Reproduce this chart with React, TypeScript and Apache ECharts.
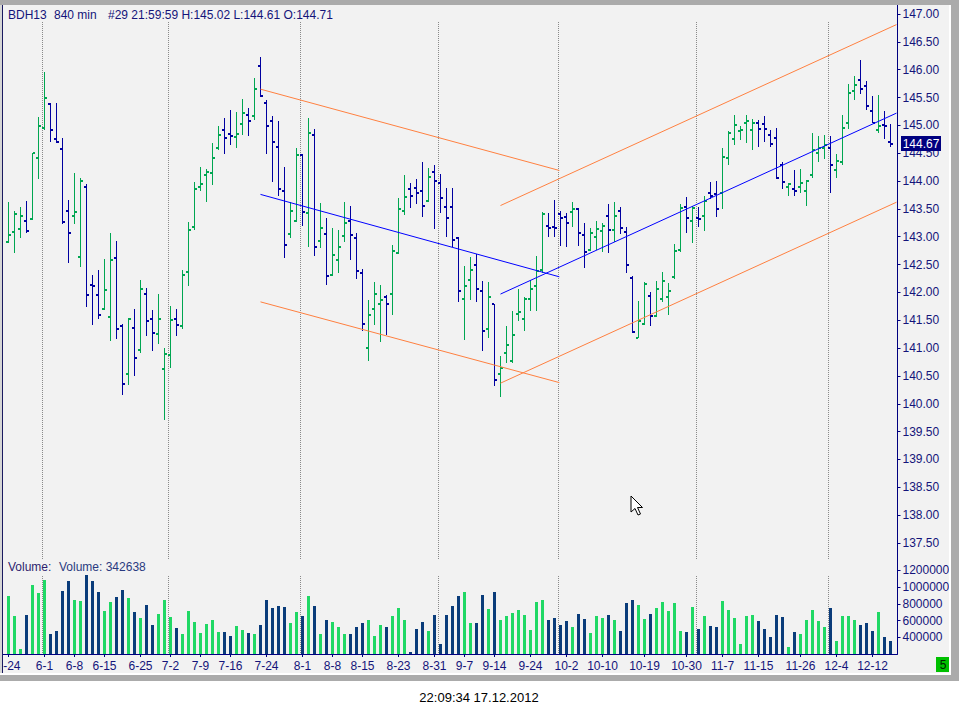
import React, { useEffect, useRef } from "react";
import * as echarts from "echarts";

// ---------- data ----------
const barOpen = [
  142.90, 143.08, 143.13, 143.28, 143.31, 144.41, 144.95, 145.38, 144.75, 144.57,
  143.46, 143.37, 142.63, 143.89, 142.13, 141.95, 141.71, 141.55, 142.61, 141.39,
  140.53, 141.36, 140.96, 141.97, 141.53, 141.25, 140.62, 140.87, 141.53, 141.39,
  142.36, 143.17, 143.90, 144.10, 144.14, 144.59, 144.91, 144.84, 144.79, 145.02,
  145.18, 145.17, 146.06, 145.41, 145.07, 144.62, 143.82, 143.04, 143.29, 144.46,
  143.42, 144.82, 142.92, 143.04, 142.32, 142.59, 143.01, 143.29, 142.97, 142.34,
  141.01, 141.70, 141.80, 141.91, 141.98, 142.70, 143.47, 143.85, 143.87, 143.83,
  143.64, 144.16, 143.96, 143.53, 143.53, 142.98, 141.88, 142.22, 142.50, 142.02,
  141.34, 141.79, 140.53, 140.92, 140.77, 141.61, 141.52, 141.88, 142.11, 142.40,
  143.20, 143.18, 143.41, 143.35, 143.44, 143.50, 143.03, 142.77, 142.99, 143.10,
  143.38, 143.12, 143.46, 143.08, 142.25, 141.19, 141.44, 141.93, 141.57, 141.89,
  141.91, 142.27, 142.76, 143.53, 143.28, 143.33, 143.38, 143.78, 143.76, 143.78,
  144.41, 144.75, 144.90, 145.04, 144.91, 145.04, 145.03, 144.83, 144.78, 144.29,
  143.89, 143.86, 143.90, 143.82, 144.11, 144.50, 144.59, 144.60, 144.20, 144.34,
  145.04, 145.61, 145.82, 145.71, 145.26, 144.92, 145.00, 144.71,
];
const barHigh = [
  143.62, 143.46, 143.53, 143.64, 144.51, 145.15, 145.96, 145.40, 145.40, 144.77,
  143.66, 144.14, 144.06, 143.95, 142.31, 142.40, 142.60, 143.07, 142.92, 141.43,
  141.54, 141.70, 142.22, 142.08, 141.68, 141.97, 141.00, 141.76, 141.70, 142.40,
  143.26, 143.98, 144.25, 144.22, 144.68, 144.99, 145.13, 145.28, 145.24, 145.47,
  145.31, 145.85, 146.23, 145.46, 145.17, 145.08, 144.25, 143.62, 144.59, 144.48,
  145.13, 144.94, 143.61, 143.34, 143.16, 143.12, 143.62, 143.56, 143.06, 142.42,
  141.86, 142.19, 142.13, 141.95, 142.85, 143.70, 144.11, 143.97, 144.04, 144.34,
  144.23, 144.29, 144.13, 143.88, 143.88, 142.99, 142.47, 142.64, 142.69, 142.21,
  142.19, 141.80, 140.86, 141.39, 141.67, 142.07, 141.92, 142.22, 142.66, 143.44,
  143.43, 143.66, 143.47, 143.42, 143.62, 143.52, 143.25, 143.15, 143.28, 143.25,
  143.59, 143.62, 143.53, 143.17, 142.29, 141.85, 142.18, 142.01, 142.21, 142.37,
  142.17, 142.87, 143.59, 143.71, 143.56, 143.54, 143.74, 143.98, 144.00, 144.59,
  144.89, 145.19, 144.99, 145.19, 145.11, 145.09, 145.17, 144.92, 144.95, 144.34,
  143.97, 144.20, 144.22, 144.02, 144.87, 144.80, 144.82, 144.80, 144.49, 145.19,
  145.74, 145.89, 146.17, 145.80, 145.53, 145.55, 145.26, 145.02,
];
const barLow = [
  142.88, 142.71, 142.97, 143.07, 143.30, 144.04, 144.92, 144.71, 144.68, 143.22,
  142.52, 143.23, 142.46, 141.73, 141.42, 141.52, 141.68, 141.12, 141.17, 140.15,
  140.33, 140.49, 140.92, 141.22, 140.95, 141.08, 139.70, 140.65, 141.22, 141.35,
  142.12, 143.12, 143.83, 143.63, 143.92, 144.55, 144.49, 144.65, 144.60, 144.82,
  144.80, 145.10, 145.51, 144.49, 143.99, 143.73, 142.62, 142.97, 143.27, 143.20,
  142.81, 142.66, 142.79, 142.14, 142.30, 142.34, 142.91, 142.58, 142.24, 141.31,
  140.76, 141.42, 141.11, 141.23, 141.60, 142.69, 143.39, 143.52, 143.59, 143.36,
  143.62, 143.14, 143.43, 143.00, 142.82, 141.83, 141.15, 141.86, 141.83, 140.95,
  141.19, 140.31, 140.13, 140.73, 140.74, 141.49, 141.31, 141.67, 141.67, 142.34,
  143.00, 143.00, 142.84, 142.82, 143.17, 142.84, 142.43, 142.74, 142.76, 142.73,
  142.70, 142.90, 143.05, 142.34, 141.27, 141.18, 141.42, 141.39, 141.56, 141.83,
  141.59, 142.24, 142.73, 143.07, 142.89, 143.18, 143.11, 143.68, 143.36, 143.49,
  144.29, 144.65, 144.74, 144.69, 144.55, 144.62, 144.71, 144.62, 144.04, 143.85,
  143.74, 143.73, 143.78, 143.56, 144.05, 144.34, 144.39, 143.79, 144.05, 144.28,
  144.94, 145.46, 145.56, 145.28, 145.04, 144.87, 144.75, 144.61,
];
const barClose = [
  143.03, 143.40, 143.37, 143.10, 144.50, 144.98, 145.49, 144.91, 144.70, 143.26,
  143.06, 143.44, 144.00, 141.95, 142.11, 141.59, 142.04, 142.59, 141.34, 140.35,
  141.52, 140.82, 142.07, 141.48, 141.27, 141.53, 140.89, 141.50, 141.41, 142.31,
  143.12, 143.85, 143.94, 144.17, 144.41, 144.82, 144.77, 144.80, 144.84, 145.22,
  145.07, 145.65, 145.52, 144.98, 144.70, 143.85, 142.86, 143.46, 144.46, 143.44,
  144.86, 142.81, 143.15, 142.29, 142.67, 142.81, 143.24, 143.03, 142.38, 141.44,
  141.59, 141.97, 141.86, 141.79, 142.74, 143.49, 143.71, 143.73, 143.78, 143.55,
  144.07, 144.00, 143.69, 143.33, 142.94, 142.02, 142.11, 142.40, 142.07, 141.30,
  141.91, 140.42, 140.64, 141.05, 141.23, 141.64, 141.88, 142.07, 142.38, 143.40,
  143.15, 143.15, 143.33, 143.24, 143.49, 143.06, 142.73, 143.06, 143.13, 143.19,
  143.12, 143.37, 143.15, 142.49, 141.28, 141.48, 142.15, 141.57, 142.07, 142.20,
  142.02, 142.74, 143.51, 143.33, 143.51, 143.31, 143.64, 143.74, 143.49, 144.43,
  144.86, 145.00, 144.92, 145.07, 145.04, 144.93, 144.93, 144.66, 144.05, 143.98,
  143.94, 143.82, 143.97, 144.00, 144.55, 144.59, 144.64, 144.29, 144.36, 144.96,
  145.58, 145.73, 145.65, 145.35, 145.05, 144.99, 144.98, 144.67,
];
const volume = [
  894000, 655000, 261000, 667000, 1025000, 933000, 1085000, 440000, 476000, 953000,
  1073000, 846000, 834000, 1144000, 1073000, 941000, 714000, 822000, 882000, 965000,
  870000, 702000, 631000, 786000, 547000, 679000, 846000, 643000, 511000, 440000,
  714000, 583000, 452000, 559000, 607000, 464000, 464000, 416000, 535000, 488000,
  452000, 440000, 547000, 846000, 750000, 774000, 762000, 571000, 702000, 655000,
  894000, 774000, 440000, 607000, 583000, 523000, 440000, 440000, 523000, 571000,
  607000, 416000, 547000, 523000, 655000, 750000, 607000, 225000, 500000, 583000,
  480000, 667000, 320000, 667000, 774000, 894000, 941000, 571000, 571000, 905000,
  738000, 941000, 607000, 655000, 691000, 726000, 667000, 488000, 822000, 846000,
  607000, 631000, 547000, 595000, 523000, 679000, 619000, 452000, 655000, 631000,
  667000, 607000, 476000, 810000, 846000, 786000, 619000, 679000, 750000, 822000,
  714000, 810000, 476000, 464000, 762000, 500000, 655000, 535000, 523000, 834000,
  726000, 631000, 320000, 655000, 667000, 595000, 500000, 404000, 667000, 643000,
  285000, 464000, 440000, 607000, 726000, 595000, 523000, 750000, 356000, 655000,
  655000, 607000, 547000, 571000, 480000, 702000, 404000, 356000,
];
const tickIdx = [0, 6, 11, 16, 22, 27, 32, 37, 43, 49, 54, 59, 65, 71, 76, 81, 87, 93, 99, 106, 113, 119, 125, 132, 138, 144];
const tickLabels = ["5-24", "6-1", "6-8", "6-15", "6-25", "7-2", "7-9", "7-16", "7-24", "8-1", "8-8", "8-15", "8-23", "8-31", "9-7", "9-14", "9-24", "10-2", "10-10", "10-19", "10-30", "11-7", "11-15", "11-26", "12-4", "12-12"];
const monthStartIdx = [6, 27, 49, 72, 92, 115, 137];

const downUpper = [[42.0, 145.65], [91.8, 144.19]];
const downLower = [[42.0, 141.83], [91.8, 140.38]];
const downMid = [[42.0, 143.76], [91.8, 142.28]];
const upUpper = [[82.0, 143.56], [148.0, 146.81]];
const upLower = [[82.0, 140.37], [148.0, 143.62]];
const upMid = [[82.0, 141.97], [148.0, 145.22]];

const titleSymbol = "BDH13";
const titlePeriod = "840 min";
const titleInfo = "#29 21:59:59 H:145.02 L:144.61 O:144.71";
const lastPrice = "144.67";
const volumeLabel = "Volume: 342638";
const timestamp = "22:09:34 17.12.2012";

// ---------- styles ----------
const FONT = "Liberation Sans, Arial, sans-serif";
const GREEN = "#00a651";
const BLUE = "#0000a0";
const VGREEN = "#20d865";
const VBLUE = "#0a3c7a";
const NAVY = "#000080";
const TXT = "#14147a";
const ORANGE = "#ff8040";
const TREND_BLUE = "#0000ff";
const VOL_MIN = 200000;

export default function App() {
  const ref = useRef<HTMLDivElement>(null);

  useEffect(() => {
    if (!ref.current) return;
    const chart = echarts.init(ref.current, null, { renderer: "svg" });

    const ohlcData = barOpen.map((o, i) => [i, o, barHigh[i], barLow[i], barClose[i]]);
    const volData = volume.map((v, i) => [i, v, barClose[i] >= barOpen[i] ? 1 : 0]);

    const trend = (data: number[][], color: string) => ({
      type: "line",
      xAxisIndex: 0,
      yAxisIndex: 0,
      data,
      symbol: "none",
      silent: true,
      z: 3,
      lineStyle: { color, width: 1 },
    });

    const dotted = (grid: number, top: number, bottom: number) => ({
      type: "custom",
      xAxisIndex: grid,
      yAxisIndex: grid,
      silent: true,
      z: 1,
      data: monthStartIdx.map((k) => [k, top]),
      encode: { x: 0, y: 1 },
      renderItem: (params: any, api: any) => {
        const k = api.value(0);
        const p1 = api.coord([k - 0.3, top]);
        const p2 = api.coord([k - 0.3, bottom]);
        const x = Math.floor(p1[0]) + 0.5;
        return {
          type: "line",
          shape: { x1: x, y1: Math.round(p1[1]), x2: x, y2: Math.round(p2[1]) },
          style: { stroke: "#8a8a8a", lineWidth: 1, lineDash: [1, 1] },
        };
      },
    });

    const axisText = { color: TXT, fontSize: 12, fontFamily: FONT };

    const option: any = {
      animation: false,
      backgroundColor: "transparent",
      grid: [
        { left: 2.5, width: 895, top: 14, height: 556.8, containLabel: false, outerBoundsMode: "none" },
        { left: 2.5, width: 895, top: 570.33, height: 83.67, containLabel: false, outerBoundsMode: "none" },
      ],
      xAxis: [
        { type: "value", gridIndex: 0, min: -1, max: 148.1667, show: false },
        {
          type: "value",
          gridIndex: 1,
          min: -1,
          max: 148.1667,
          axisLine: { show: true, onZero: false, lineStyle: { color: NAVY, width: 1 } },
          axisTick: { show: true, customValues: tickIdx, length: 3, lineStyle: { color: NAVY } },
          axisLabel: {
            ...axisText,
            customValues: tickIdx,
            margin: 6,
            alignMinLabel: "center",
            alignMaxLabel: "center",
            formatter: (v: number) => {
              const j = tickIdx.indexOf(Math.round(v));
              return j >= 0 ? tickLabels[j] : "";
            },
          },
          splitLine: { show: false },
        },
      ],
      yAxis: [
        {
          type: "value",
          gridIndex: 0,
          position: "right",
          min: 137,
          max: 147,
          interval: 0.5,
          axisLine: { show: false, onZero: false },
          axisTick: { show: true, length: 3, lineStyle: { color: NAVY } },
          axisLabel: { ...axisText, margin: 5, showMinLabel: false, formatter: (v: number) => v.toFixed(2) },
          splitLine: { show: false },
        },
        {
          type: "value",
          gridIndex: 1,
          position: "right",
          min: VOL_MIN,
          max: 1200000,
          interval: 200000,
          axisLine: { show: false, onZero: false },
          axisTick: { show: true, length: 3, lineStyle: { color: NAVY } },
          axisLabel: { ...axisText, margin: 5, showMinLabel: false, formatter: (v: number) => String(v) },
          splitLine: { show: false },
        },
      ],
      series: [
        dotted(0, 146.856, 137.212),
        dotted(1, 1132000, VOL_MIN),
        {
          type: "custom",
          xAxisIndex: 0,
          yAxisIndex: 0,
          silent: true,
          z: 2,
          data: ohlcData,
          encode: { x: 0, y: [1, 2, 3, 4] },
          renderItem: (params: any, api: any) => {
            const k = api.value(0);
            const o = api.value(1);
            const h = api.value(2);
            const l = api.value(3);
            const c = api.value(4);
            const pH = api.coord([k, h]);
            const pL = api.coord([k, l]);
            const pO = api.coord([k, o]);
            const pC = api.coord([k, c]);
            const x = Math.floor(pH[0]);
            const color = c >= o ? GREEN : BLUE;
            const yH = Math.round(pH[1]);
            const yL = Math.round(pL[1]);
            return {
              type: "group",
              children: [
                { type: "rect", shape: { x, y: yH, width: 1, height: Math.max(1, yL - yH) }, style: { fill: color } },
                { type: "rect", shape: { x: x - 2, y: Math.round(pO[1]) - 1, width: 2, height: 2 }, style: { fill: color } },
                { type: "rect", shape: { x: x + 1, y: Math.round(pC[1]) - 1, width: 2, height: 2 }, style: { fill: color } },
              ],
            };
          },
        },
        {
          type: "custom",
          xAxisIndex: 1,
          yAxisIndex: 1,
          silent: true,
          z: 2,
          data: volData,
          encode: { x: 0, y: 1 },
          renderItem: (params: any, api: any) => {
            const k = api.value(0);
            const v = api.value(1);
            const up = api.value(2);
            const pT = api.coord([k, v]);
            const pB = api.coord([k, VOL_MIN]);
            const x = Math.floor(pT[0]) - 1;
            const yT = Math.round(pT[1]);
            const yB = Math.round(pB[1]);
            return {
              type: "rect",
              shape: { x, y: yT, width: 3, height: Math.max(1, yB - yT) },
              style: { fill: up ? VGREEN : VBLUE },
            };
          },
        },
        trend(downUpper, ORANGE),
        trend(downLower, ORANGE),
        trend(downMid, TREND_BLUE),
        trend(upUpper, ORANGE),
        trend(upLower, ORANGE),
        trend(upMid, TREND_BLUE),
      ],
      graphic: [
        // panel background
        { type: "rect", z: -10, shape: { x: 0, y: 5, width: 951, height: 670 }, style: { fill: "#f2f2f2" } },
        // frame
        { type: "rect", z: 100, shape: { x: 0, y: 0, width: 959, height: 5 }, style: { fill: "#ababab" } },
        { type: "rect", z: 100, shape: { x: 951, y: 0, width: 8, height: 681 }, style: { fill: "#ababab" } },
        { type: "rect", z: 100, shape: { x: 0, y: 675, width: 959, height: 6 }, style: { fill: "#ababab" } },
        { type: "rect", z: 100, shape: { x: 0, y: 673, width: 951, height: 2 }, style: { fill: "#ffffff" } },
        { type: "rect", z: 100, shape: { x: 949, y: 5, width: 2, height: 670 }, style: { fill: "#ffffff" } },
        { type: "rect", z: 100, shape: { x: 0, y: 5, width: 2, height: 668 }, style: { fill: "#d6d6d6" } },
        { type: "rect", z: 100, shape: { x: 2, y: 5, width: 1, height: 668 }, style: { fill: "#1a1a60" } },
        // right axis line
        { type: "rect", z: 50, shape: { x: 897, y: 5, width: 1, height: 649 }, style: { fill: NAVY } },
        // last price box
        { type: "rect", z: 60, shape: { x: 901, y: 136, width: 40, height: 15 }, style: { fill: NAVY } },
        {
          type: "text", z: 61, x: 921, y: 143.5,
          style: { text: lastPrice, fill: "#ffffff", fontSize: 12, fontFamily: FONT, align: "center", verticalAlign: "middle" },
        },
        // green "5" box
        { type: "rect", z: 60, shape: { x: 936, y: 657, width: 14, height: 15 }, style: { fill: "#00c000" } },
        {
          type: "text", z: 61, x: 943, y: 664.5,
          style: { text: "5", fill: "#002200", fontSize: 12, fontFamily: FONT, align: "center", verticalAlign: "middle" },
        },
        // title
        { type: "text", z: 60, x: 8, y: 14.5, style: { text: titleSymbol, fill: TXT, fontSize: 12, fontFamily: FONT, verticalAlign: "middle" } },
        { type: "text", z: 60, x: 54, y: 14.5, style: { text: titlePeriod, fill: TXT, fontSize: 12, fontFamily: FONT, verticalAlign: "middle" } },
        { type: "text", z: 60, x: 108, y: 14.5, style: { text: titleInfo, fill: TXT, fontSize: 12, fontFamily: FONT, verticalAlign: "middle" } },
        // volume label
        { type: "text", z: 60, x: 8, y: 567, style: { text: "Volume:", fill: "#2e1e6e", fontSize: 12, fontFamily: FONT, verticalAlign: "middle" } },
        { type: "text", z: 60, x: 59, y: 567, style: { text: volumeLabel, fill: "#2a3a80", fontSize: 12, fontFamily: FONT, verticalAlign: "middle" } },
        // timestamp
        {
          type: "text", z: 60, x: 479, y: 697,
          style: { text: timestamp, fill: "#000000", fontSize: 13, fontFamily: FONT, align: "center", verticalAlign: "middle" },
        },
        // mouse cursor
        {
          type: "polygon", z: 70,
          shape: { points: [[631, 496], [631, 512], [635, 508.5], [638, 515], [640.5, 514], [637.5, 507.5], [642.5, 507.5]] },
          style: { fill: "#ffffff", stroke: "#000000", lineWidth: 1 },
        },
      ],
    };

    chart.setOption(option);
    return () => chart.dispose();
  }, []);

  return (
    <div
      ref={ref}
      style={{ position: "absolute", left: 0, top: 0, width: 959, height: 715, background: "#ffffff" }}
    />
  );
}
